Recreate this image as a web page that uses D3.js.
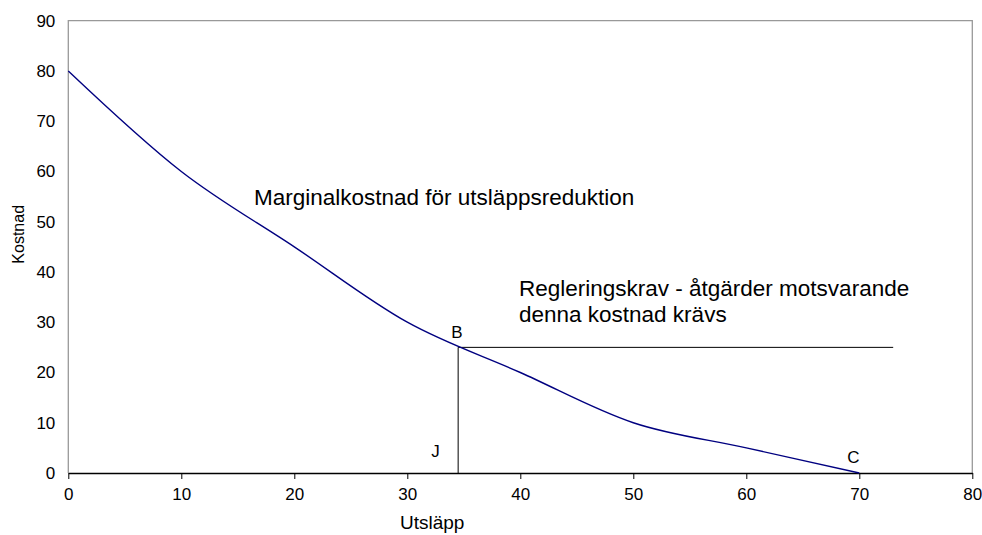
<!DOCTYPE html>
<html><head><meta charset="utf-8">
<script src="https://cdn.jsdelivr.net/npm/d3@7"></script>
<style>body{margin:0;background:#fff}text{font-family:Arial,"Liberation Sans",sans-serif;fill:#000}</style>
</head><body>
<svg id="c" width="982" height="535"></svg>
<script>
const curveX = [0, 10, 20, 30, 40, 50, 60, 70];
const curveY = [80, 60, 45, 30, 20, 10, 5, 0];
const xTicks = [0, 10, 20, 30, 40, 50, 60, 70, 80];
const yTicks = [0, 10, 20, 30, 40, 50, 60, 70, 80, 90];
const regX = [34.5, 73];
const regY = 25;
const pointLabels = [{t:"B", x:34.5, y:25}, {t:"J", x:34.5, y:0}, {t:"C", x:70, y:0}];

const svg = d3.select("#c");
const x = d3.scaleLinear().domain([0, 80]).range([68.3, 972.3]);
const y = d3.scaleLinear().domain([0, 90]).range([473, 20.7]);

// plot frame (gray)
svg.append("path").attr("d", `M${x(0)},${y(0)}V${y(90)}H${x(80)}V${y(0)}`)
  .attr("fill","none").attr("stroke","#999").attr("stroke-width",1.3);

// y axis labels
const yAx = svg.append("g").attr("transform",`translate(${x(0)},0)`)
  .call(d3.axisLeft(y).tickValues(yTicks).tickSize(0).tickPadding(13));
yAx.select(".domain").remove();
yAx.selectAll("text").style("font-size","17px").style("font-family","Arial, 'Liberation Sans', sans-serif");

// x axis
const xAx = svg.append("g").attr("transform",`translate(0,${y(0)})`)
  .call(d3.axisBottom(x).tickValues(xTicks).tickSize(6).tickSizeOuter(0).tickPadding(9));
xAx.select(".domain").attr("stroke","#000").attr("stroke-width",1.3);
xAx.selectAll("line").attr("stroke","#000");
xAx.selectAll("text").style("font-size","17px").style("font-family","Arial, 'Liberation Sans', sans-serif");

// regulation lines
svg.append("line").attr("x1",x(regX[0])).attr("x2",x(regX[1])).attr("y1",y(regY)).attr("y2",y(regY))
  .attr("stroke","#000").attr("stroke-width",1);
svg.append("line").attr("x1",x(regX[0])).attr("x2",x(regX[0])).attr("y1",y(regY)).attr("y2",y(0))
  .attr("stroke","#000").attr("stroke-width",1);

// curve
const data = curveX.map((v,i)=>[v, curveY[i]]);
svg.append("path").datum(data)
  .attr("d", d3.line().x(d=>x(d[0])).y(d=>y(d[1])).curve(d3.curveCardinal.tension(0)))
  .attr("fill","none").attr("stroke","#000080").attr("stroke-width",1.4);

// annotations
svg.append("text").attr("x",254).attr("y",205).style("font-size","22.5px").text("Marginalkostnad för utsläppsreduktion");
svg.append("text").attr("x",519).attr("y",296).style("font-size","22.5px").text("Regleringskrav - åtgärder motsvarande");
svg.append("text").attr("x",519).attr("y",322).style("font-size","22.5px").text("denna kostnad krävs");

const offs = {B:[-7,-9], J:[-27,-16], C:[-12,-10]};
svg.selectAll(".pl").data(pointLabels).enter().append("text")
  .attr("x", d=>x(d.x)+offs[d.t][0]).attr("y", d=>y(d.y)+offs[d.t][1])
  .style("font-size","17px").text(d=>d.t);

// axis titles
svg.append("text").attr("x", x(32.2)).attr("y", 529).attr("text-anchor","middle").style("font-size","19px").text("Utsläpp");
svg.append("text").attr("transform",`translate(24,${y(47.5)}) rotate(-90)`).attr("text-anchor","middle").style("font-size","16px").text("Kostnad");
</script>
</body></html>
